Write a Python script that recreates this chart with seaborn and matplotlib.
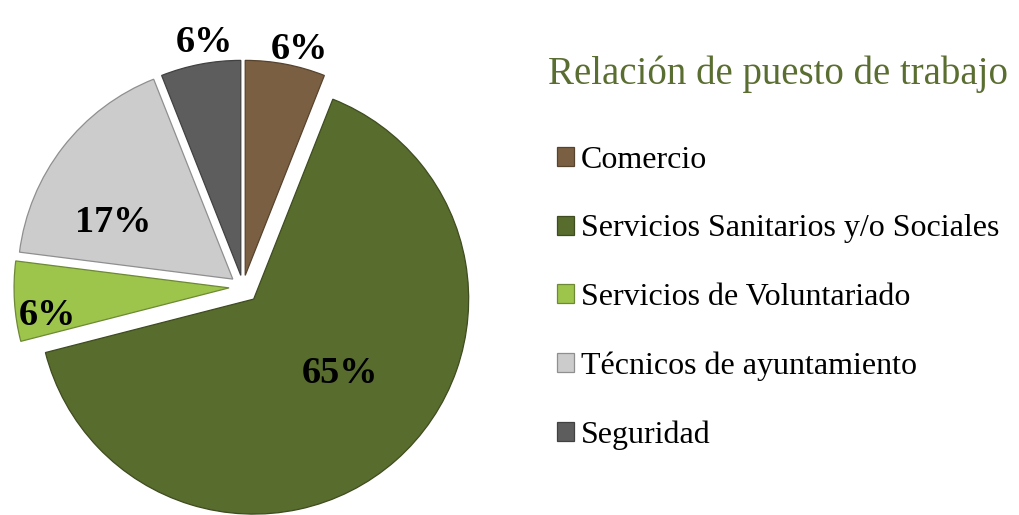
import matplotlib.pyplot as plt
import matplotlib.colors as mcolors
import numpy as np
import seaborn as sns

# Data
categories = [
    "Comercio",
    "Servicios Sanitarios y/o Sociales",
    "Servicios de Voluntariado",
    "Técnicos de ayuntamiento",
    "Seguridad",
]
shares = [6, 65, 6, 17, 6]
colors = ["#7b5f42", "#586c2d", "#9dc44b", "#cccccc", "#5d5d5d"]

sns.set_theme(style="white")
plt.rcParams["font.family"] = ["Liberation Serif", "DejaVu Serif"]

W, H = 1019, 515
fig = plt.figure(figsize=(W / 100, H / 100), dpi=100)
fig.patch.set_facecolor("white")

# pie axes placed in pixels: centre (243, 287) from top-left, radius 215 px
cx, cy, R = 243, 287, 215
half = 1.3 * R
ax = fig.add_axes([(cx - half) / W, (H - cy - half) / H, 2 * half / W, 2 * half / H])

explode = [0.055, 0.075, 0.065, 0.06, 0.055]
wedges, _ = ax.pie(
    shares,
    colors=colors,
    startangle=90,
    counterclock=False,
    explode=explode,
    radius=1.0,
    wedgeprops={"linewidth": 0.9},
)
for w, c in zip(wedges, colors):
    rgb = np.array(mcolors.to_rgb(c))
    w.set_edgecolor(rgb * 0.7)

ax.set_xlim(-1.3, 1.3)
ax.set_ylim(-1.3, 1.3)
ax.set_axis_off()

# percentage labels placed along each wedge's mid-angle
label_dist = [1.095, 0.52, 0.85, 0.62, 1.11]
angle_nudge = [-2.5, 8, 3.7, 10, -1.9]
start = 90.0
for val, d, nudge, ex in zip(shares, label_dist, angle_nudge, explode):
    span = 360.0 * val / sum(shares)
    mid = np.deg2rad(start - span / 2 + nudge)
    ax.text(
        (d + ex) * np.cos(mid), (d + ex) * np.sin(mid) - 0.015, f"{val}%",
        ha="center", va="center", fontsize=27.5, fontweight="bold", color="black",
    )
    start -= span

fig.text(548 / W, 1 - 74 / H, "Relación de puesto de trabajo",
         ha="left", va="center", fontsize=28, color="#5b6e31")

fig.legend(
    wedges, categories,
    loc="upper left", bbox_to_anchor=(557 / W, 1 - 146 / H),
    frameon=False, fontsize=23, labelcolor="black",
    handlelength=0.53, handleheight=0.53, handletextpad=0.22,
    labelspacing=1.235, borderaxespad=0, borderpad=0,
)

fig.savefig("out.png", dpi=100, facecolor="white")
